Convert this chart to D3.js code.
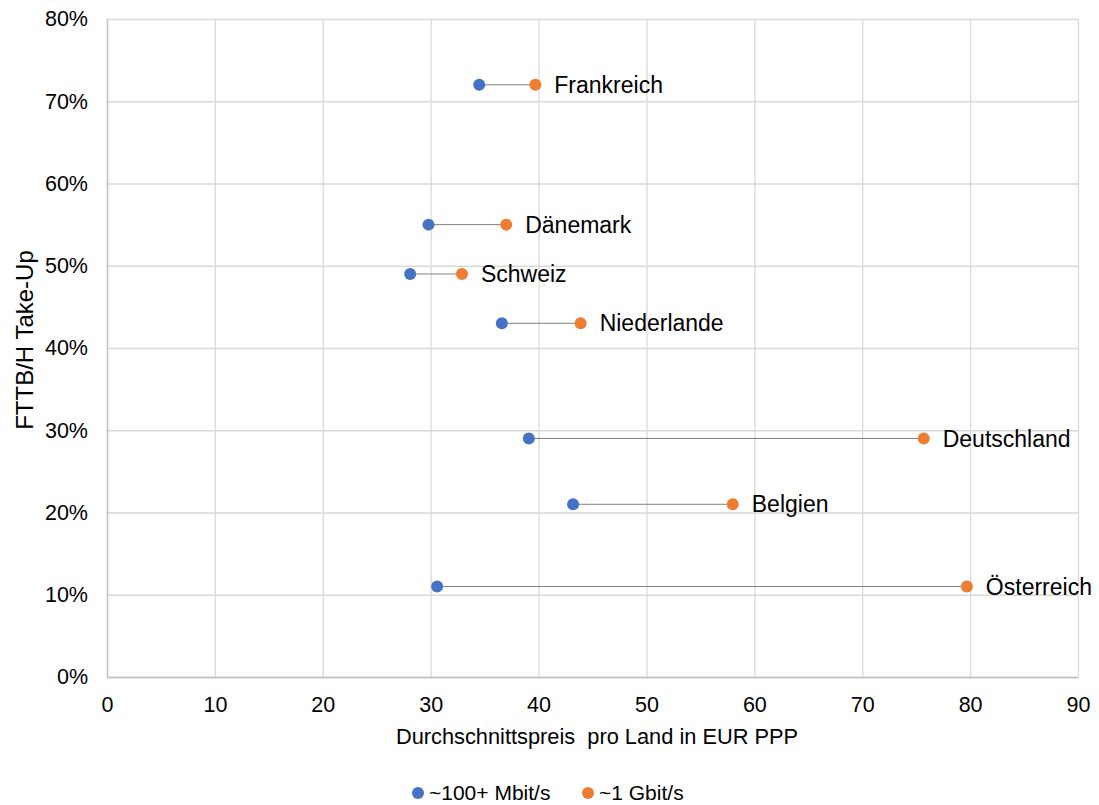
<!DOCTYPE html>
<html>
<head>
<meta charset="utf-8">
<script src="https://cdn.jsdelivr.net/npm/d3@7"></script>
<style>
  body { margin: 0; background: #fff; }
  text { font-family: "Liberation Sans", Arial, sans-serif; fill: #000; }
</style>
</head>
<body>
<div id="chart"></div>
<script>
// data
var countries = ["Frankreich", "Dänemark", "Schweiz", "Niederlande", "Deutschland", "Belgien", "Österreich"];
var price100 = [34.5, 29.8, 28.1, 36.6, 39.1, 43.2, 30.6];
var price1g = [39.7, 37.0, 32.9, 43.9, 75.7, 58.0, 79.7];
var takeUp = [0.72, 0.55, 0.49, 0.43, 0.29, 0.21, 0.11];
var seriesNames = ["~100+ Mbit/s", "~1 Gbit/s"];
var xTicks = [0, 10, 20, 30, 40, 50, 60, 70, 80, 90];
var yTicks = [0, 0.1, 0.2, 0.3, 0.4, 0.5, 0.6, 0.7, 0.8];

var W = 1099, H = 805;
var margin = {top: 19, right: 21, bottom: 128, left: 107};
var width = W - margin.left - margin.right;
var height = H - margin.top - margin.bottom;

var blue = "#4472C4", orange = "#ED7D31";

var svg = d3.select("#chart").append("svg")
    .attr("width", W)
    .attr("height", H);

var g = svg.append("g")
    .attr("transform", "translate(" + margin.left + "," + margin.top + ")");

var x = d3.scaleLinear().domain([0, 90]).range([0, width]);
var y = d3.scaleLinear().domain([0, 0.8]).range([height, 0]);

//grid lines
g.append("g")
    .attr("transform", "translate(0," + height + ")")
    .call(d3.axisBottom(x).tickValues(xTicks).tickSize(-height).tickFormat(""))
    .call(function(a) { a.select(".domain").remove(); })
    .selectAll("line").attr("stroke", "#d9d9d9").attr("stroke-width", 1.3);

g.append("g")
    .call(d3.axisLeft(y).tickValues(yTicks).tickSize(-width).tickFormat(""))
    .call(function(a) { a.select(".domain").remove(); })
    .selectAll("line").attr("stroke", "#d9d9d9").attr("stroke-width", 1.3);

//axes
var xAxis = g.append("g")
    .attr("transform", "translate(0," + height + ")")
    .call(d3.axisBottom(x).tickValues(xTicks).tickSize(0).tickPadding(20));
xAxis.select(".domain").attr("stroke", "#bfbfbf").attr("stroke-width", 1.3);
xAxis.selectAll("text").style("font-size", "21.5px").attr("fill", "#000");

var yAxis = g.append("g")
    .call(d3.axisLeft(y).tickValues(yTicks).tickSize(0).tickPadding(19).tickFormat(d3.format(".0%")));
yAxis.select(".domain").attr("stroke", "#bfbfbf").attr("stroke-width", 1.3);
yAxis.selectAll("text").style("font-size", "21.5px").attr("fill", "#000");

//axis titles
svg.append("text")
    .attr("x", 597)
    .attr("y", 744)
    .attr("text-anchor", "middle")
    .style("font-size", "21.8px")
    .style("white-space", "pre")
    .text("Durchschnittspreis  pro Land in EUR PPP");

svg.append("text")
    .attr("transform", "translate(33,340) rotate(-90)")
    .attr("text-anchor", "middle")
    .style("font-size", "24px")
    .text("FTTB/H Take-Up");

//connectors
g.selectAll(".conn")
    .data(countries)
    .enter().append("line")
    .attr("x1", function(d, i) { return x(price100[i]); })
    .attr("x2", function(d, i) { return x(price1g[i]); })
    .attr("y1", function(d, i) { return y(takeUp[i]); })
    .attr("y2", function(d, i) { return y(takeUp[i]); })
    .attr("stroke", "#7f7f7f")
    .attr("stroke-width", 1);

//points
g.selectAll(".p100")
    .data(countries)
    .enter().append("circle")
    .attr("cx", function(d, i) { return x(price100[i]); })
    .attr("cy", function(d, i) { return y(takeUp[i]); })
    .attr("r", 6)
    .attr("fill", blue);

g.selectAll(".p1g")
    .data(countries)
    .enter().append("circle")
    .attr("cx", function(d, i) { return x(price1g[i]); })
    .attr("cy", function(d, i) { return y(takeUp[i]); })
    .attr("r", 6)
    .attr("fill", orange);

//labels
g.selectAll(".lbl")
    .data(countries)
    .enter().append("text")
    .attr("x", function(d, i) { return x(price1g[i]) + 19; })
    .attr("y", function(d, i) { return y(takeUp[i]); })
    .attr("dy", "0.35em")
    .style("font-size", "23px")
    .text(function(d) { return d; });

//legend
var legend = svg.append("g");
var legendX = [418, 588];
var colors = [blue, orange];
seriesNames.forEach(function(name, i) {
    legend.append("circle")
        .attr("cx", legendX[i])
        .attr("cy", 793)
        .attr("r", 6)
        .attr("fill", colors[i]);
    legend.append("text")
        .attr("x", legendX[i] + 11)
        .attr("y", 793)
        .attr("dy", "0.35em")
        .style("font-size", "21px")
        .text(name);
});
</script>
</body>
</html>
